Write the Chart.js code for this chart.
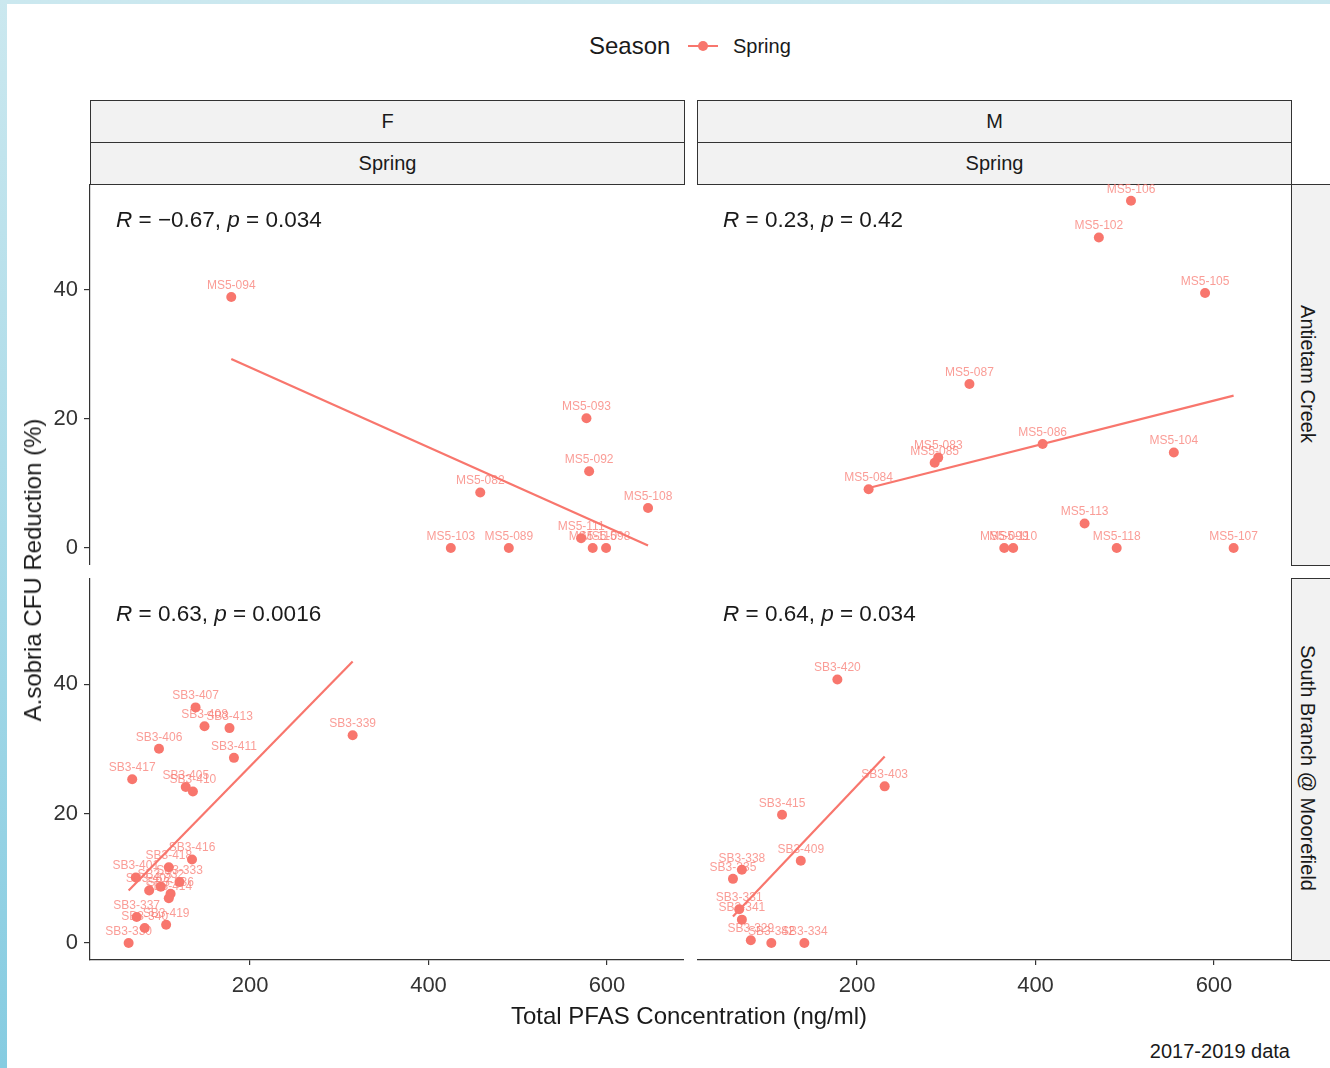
<!DOCTYPE html>
<html>
<head>
<meta charset="utf-8">
<script src="https://cdn.jsdelivr.net/npm/chart.js@4.4.1/dist/chart.umd.min.js"></script>
<style>
  html, body { margin: 0; padding: 0; }
  body {
    width: 1330px; height: 1068px; overflow: hidden; position: relative;
    background: linear-gradient(to bottom, #cbe8ef, #86cce1);
    font-family: "Liberation Sans", Arial, sans-serif; color: #1a1a1a;
  }
  #sheet { position: absolute; left: 7px; top: 4px; right: 0; bottom: 0; background: #fff; }
  canvas { position: absolute; }
  .strip {
    position: absolute; box-sizing: border-box; background: #f2f2f2;
    border: 1.5px solid #333; font-size: 20px; display: flex;
    align-items: center; justify-content: center;
  }
  .txt { position: absolute; white-space: nowrap; }
</style>
</head>
<body>
<div id="sheet"></div>

<!-- legend -->
<div class="txt" style="left:589px; top:32px; font-size:24px;">Season</div>
<div style="position:absolute; left:688px; top:45px; width:30px; height:2px; background:#F8766D;"></div>
<div style="position:absolute; left:698px; top:41px; width:10px; height:10px; border-radius:5px; background:#F8766D;"></div>
<div class="txt" style="left:733px; top:35px; font-size:20px;">Spring</div>

<!-- column strips -->
<div class="strip" style="left:90px; top:100px; width:595px; height:43px;">F</div>
<div class="strip" style="left:90px; top:142px; width:595px; height:43px;">Spring</div>
<div class="strip" style="left:697px; top:100px; width:595px; height:43px;">M</div>
<div class="strip" style="left:697px; top:142px; width:595px; height:43px;">Spring</div>

<!-- row strips -->
<div class="strip" style="left:1291px; top:184px; width:50px; height:382px;"></div>
<div class="strip" style="left:1291px; top:578px; width:50px; height:383px;"></div>
<div class="txt" style="left:1307px; top:374px; font-size:20px; transform:translate(-50%,-50%) rotate(90deg);">Antietam Creek</div>
<div class="txt" style="left:1307px; top:768px; font-size:20px; transform:translate(-50%,-50%) rotate(90deg);">South Branch @ Moorefield</div>

<canvas id="fa" width="664" height="381" style="left:20px; top:184px;"></canvas>
<canvas id="ma" width="594" height="381" style="left:697px; top:184px;"></canvas>
<canvas id="fs" width="664" height="432" style="left:20px; top:578px;"></canvas>
<canvas id="ms" width="594" height="432" style="left:697px; top:578px;"></canvas>

<!-- axis titles and caption -->
<div class="txt" style="left:33px; top:570px; font-size:24px; transform:translate(-50%,-50%) rotate(-90deg);">A.sobria CFU Reduction (%)</div>
<div class="txt" style="left:689px; top:1016px; font-size:24px; transform:translate(-50%,-50%);">Total PFAS Concentration (ng/ml)</div>
<div class="txt" style="right:40px; top:1040px; font-size:20px;">2017-2019 data</div>

<script>
// axis ticks shared by all panels
const xTicks = [200, 400, 600];
const yTicks = [0, 20, 40];

// F / Antietam Creek
const faIds = ['MS5-094', 'MS5-093', 'MS5-092', 'MS5-082', 'MS5-108', 'MS5-111', 'MS5-103', 'MS5-089', 'MS5-115', 'MS5-098'];
const faPfas = [179, 577, 580, 458, 646, 571, 425, 490, 584, 599];
const faCfu = [38.9, 20.1, 11.9, 8.6, 6.2, 1.5, 0, 0, 0, 0];
const faFitX = [179, 646];
const faFitY = [29.3, 0.4];

// M / Antietam Creek
const maIds = ['MS5-106', 'MS5-102', 'MS5-105', 'MS5-087', 'MS5-086', 'MS5-104', 'MS5-083', 'MS5-085', 'MS5-084', 'MS5-113', 'MS5-099', 'MS5-110', 'MS5-118', 'MS5-107'];
const maPfas = [507, 471, 590, 326, 408, 555, 291, 287, 213, 455, 365, 375, 491, 622];
const maCfu = [53.8, 48.1, 39.5, 25.4, 16.1, 14.8, 14.0, 13.2, 9.1, 3.8, 0, 0, 0, 0];
const maFitX = [213, 622];
const maFitY = [9.3, 23.6];

// F / South Branch @ Moorefield
const fsIds = ['SB3-407', 'SB3-408', 'SB3-413', 'SB3-406', 'SB3-411', 'SB3-339', 'SB3-417', 'SB3-405', 'SB3-410', 'SB3-416', 'SB3-418', 'SB3-401', 'SB3-333', 'SB3-332', 'SB3-402', 'SB3-336', 'SB3-414', 'SB3-337', 'SB3-340', 'SB3-419', 'SB3-330'];
const fsPfas = [139, 149, 177, 98, 182, 315, 68, 128, 136, 135, 109, 72, 121, 100, 87, 111, 109, 73, 82, 106, 64];
const fsCfu = [36.4, 33.5, 33.2, 30.0, 28.6, 32.1, 25.3, 24.1, 23.4, 12.9, 11.7, 10.1, 9.4, 8.7, 8.1, 7.6, 6.9, 4.0, 2.3, 2.8, 0];
const fsFitX = [64, 315];
const fsFitY = [8.1, 43.5];

// M / South Branch @ Moorefield
const msIds = ['SB3-420', 'SB3-403', 'SB3-415', 'SB3-409', 'SB3-338', 'SB3-335', 'SB3-331', 'SB3-341', 'SB3-329', 'SB3-342', 'SB3-334'];
const msPfas = [178, 231, 116, 137, 71, 61, 68, 71, 81, 104, 141];
const msCfu = [40.7, 24.2, 19.8, 12.7, 11.3, 9.9, 5.2, 3.6, 0.4, 0, 0];
const msFitX = [61, 231];
const msFitY = [4.1, 28.8];

// correlation text per panel
const rVals = ['\u22120.67', '0.23', '0.63', '0.64'];
const pVals = ['0.034', '0.42', '0.0016', '0.034'];

const FONT = '"Liberation Sans", Arial, sans-serif';
const RED = '#F8766D';

// draws the sample ids above the points and the R / p text
const panelText = {
  id: 'panelText',
  afterDatasetsDraw(chart, args, opts) {
    const ctx = chart.ctx;
    const meta = chart.getDatasetMeta(0);
    ctx.save();
    ctx.font = '12px ' + FONT;
    ctx.fillStyle = 'rgba(248,118,109,0.72)';
    ctx.textAlign = 'center';
    ctx.textBaseline = 'middle';
    meta.data.forEach((pt, i) => {
      ctx.fillText(opts.ids[i], pt.x, pt.y - 11.5);
    });

    // R = .., p = ..
    let x = chart.chartArea.left + 26;
    const y = chart.chartArea.top + 37;
    ctx.fillStyle = '#1a1a1a';
    ctx.textAlign = 'left';
    const parts = [['italic ', 'R'], ['', ' = ' + opts.r + ', '], ['italic ', 'p'], ['', ' = ' + opts.p]];
    parts.forEach(([style, t]) => {
      ctx.font = style + '22.5px ' + FONT;
      ctx.fillText(t, x, y);
      x += ctx.measureText(t).width;
    });
    ctx.restore();
  }
};

function makePanel(id, ids, pfas, cfu, fitX, fitY, r, p, showX, showY) {
  const points = pfas.map((v, i) => ({ x: v, y: cfu[i] }));
  const fit = fitX.map((v, i) => ({ x: v, y: fitY[i] }));

  new Chart(document.getElementById(id), {
    type: 'scatter',
    data: {
      datasets: [
        {
          data: points,
          pointRadius: 5,
          pointBackgroundColor: RED,
          pointBorderWidth: 0,
        },
        {
          type: 'line',
          data: fit,
          borderColor: RED,
          borderWidth: 2.2,
          pointRadius: 0,
          fill: false,
        },
      ],
    },
    options: {
      responsive: false,
      animation: false,
      devicePixelRatio: 1,
      layout: { padding: 0, autoPadding: false },
      plugins: {
        legend: { display: false },
        tooltip: { enabled: false },
        panelText: { ids: ids, r: r, p: p },
      },
      scales: {
        x: {
          type: 'linear',
          min: 20.7,
          max: 686.3,
          display: showX,
          afterBuildTicks: (s) => { s.ticks = xTicks.map((v) => ({ value: v })); },
          afterFit: (s) => { s.height = showX ? 50 : 0; s.paddingLeft = 0; s.paddingRight = 0; },
          grid: { drawOnChartArea: false, drawTicks: true, tickLength: 5, color: '#333', lineWidth: 1.2 },
          border: { display: true, color: '#333', width: 1.2 },
          ticks: { color: '#333', font: { size: 22, family: FONT }, padding: 8, maxRotation: 0, autoSkip: false },
        },
        y: {
          type: 'linear',
          min: -2.64,
          max: 56.4,
          display: showY,
          afterBuildTicks: (s) => { s.ticks = yTicks.map((v) => ({ value: v })); },
          afterFit: (s) => { s.width = showY ? 70 : 0; s.paddingTop = 0; s.paddingBottom = 0; },
          grid: { drawOnChartArea: false, drawTicks: true, tickLength: 6, color: '#333', lineWidth: 1.2 },
          border: { display: true, color: '#333', width: 1.2 },
          ticks: { color: '#333', font: { size: 22, family: FONT }, padding: 6, autoSkip: false },
        },
      },
    },
    plugins: [panelText],
  });
}

makePanel('fa', faIds, faPfas, faCfu, faFitX, faFitY, rVals[0], pVals[0], false, true);
makePanel('ma', maIds, maPfas, maCfu, maFitX, maFitY, rVals[1], pVals[1], false, false);
makePanel('fs', fsIds, fsPfas, fsCfu, fsFitX, fsFitY, rVals[2], pVals[2], true, true);
makePanel('ms', msIds, msPfas, msCfu, msFitX, msFitY, rVals[3], pVals[3], true, false);
</script>
</body>
</html>
